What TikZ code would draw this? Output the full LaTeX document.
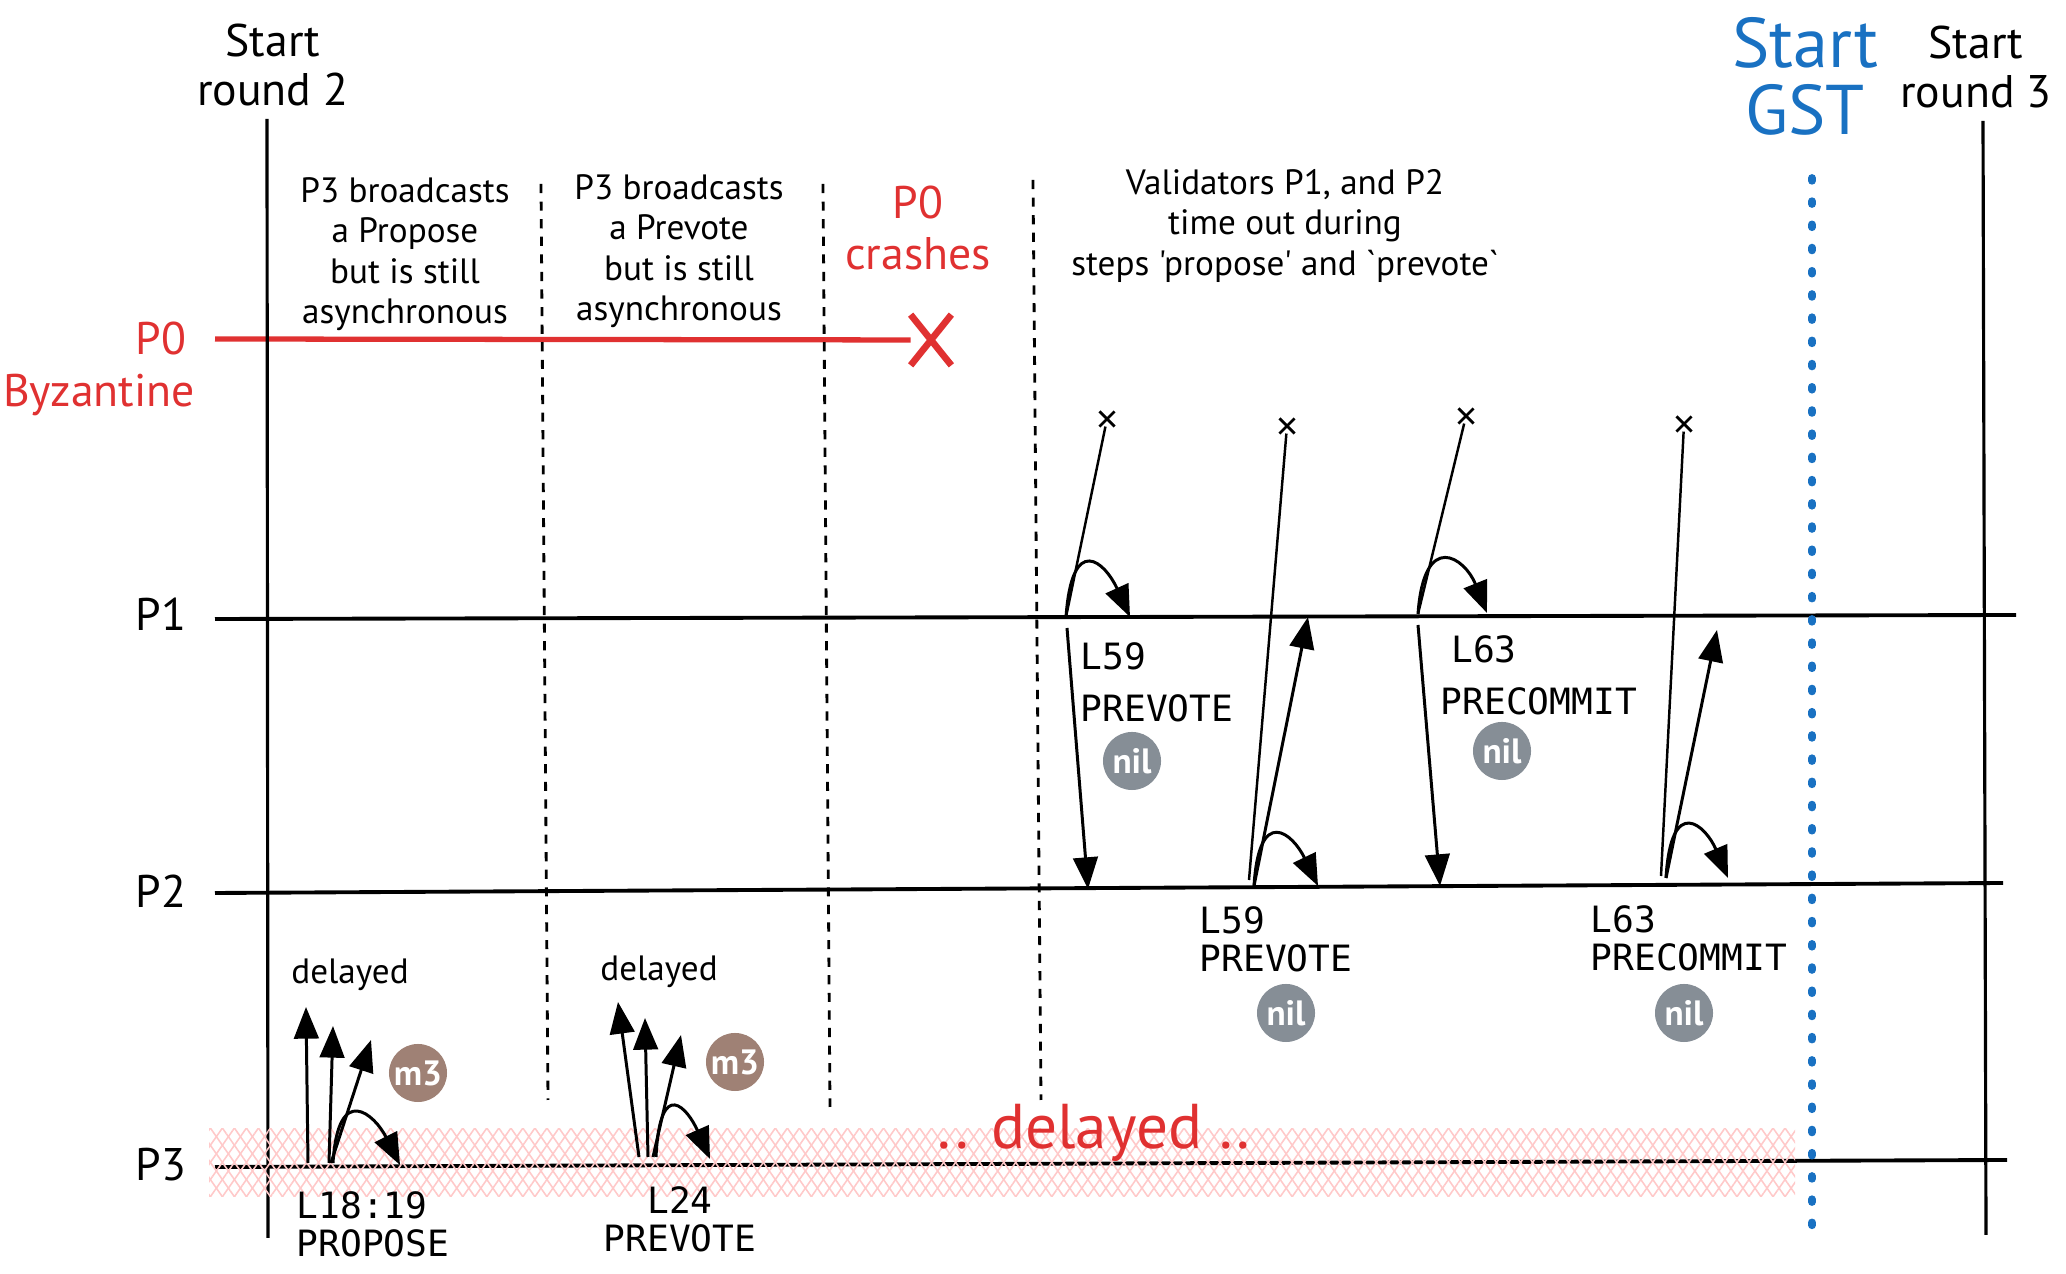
\documentclass[tikz,border=0pt]{standalone}
\usepackage{fontspec}
\setmainfont{PT Sans}[Ligatures=TeXOff]
\newfontfamily\monofont{DejaVu Sans Mono}
\usetikzlibrary{arrows.meta,shapes.misc,patterns.meta}
\definecolor{exred}{HTML}{E03131}
\definecolor{exblue}{HTML}{1971C2}
\definecolor{nilgray}{HTML}{868E96}
\definecolor{msgbrown}{HTML}{9F8175}
\definecolor{hatchpink}{HTML}{FFC9C9}
\tikzstyle{procline}=[draw,line width=1.1pt]
\tikzstyle{roundline}=[draw,line width=0.9pt]
\tikzstyle{stepsep}=[draw,line width=0.8pt,dash pattern=on 2.6pt off 2.4pt]
\tikzstyle{gstline}=[draw,exblue,line width=2.2pt,line cap=round,dash pattern=on 0.8pt off 5.8pt]
\tikzstyle{msg}=[draw,line width=0.85pt,-{Triangle[length=9pt,width=7pt]}]
\tikzstyle{timer}=[draw,line width=0.7pt]
\tikzstyle{tmark}=[cross out,draw,line width=0.8pt,minimum size=3.5pt,inner sep=0pt]
\tikzstyle{hand}=[font=\fontsize{10}{11.5}\selectfont,align=center,inner sep=0pt]
\tikzstyle{proclbl}=[font=\fontsize{13}{15}\selectfont,inner sep=0pt]
\tikzstyle{steplbl}=[font=\monofont\fontsize{10.3}{10.8}\selectfont,align=left,anchor=west,inner sep=0pt]
\tikzstyle{blob}=[circle,minimum size=0.58cm,inner sep=0pt,text=white,font=\fontsize{10}{10}\selectfont\bfseries]

\begin{document}
\begin{tikzpicture}[x=0.01cm,y=-0.01cm]
    \useasboundingbox (0,0) rectangle (2066,1274);

    % process lines
    \coordinate (p0w) at (215,339);
    \coordinate (p1w) at (215,619); \coordinate (p1e) at (2016,615);
    \coordinate (p2w) at (215,893); \coordinate (p2e) at (2003,883);
    \coordinate (p3w) at (215,1167); \coordinate (p3e) at (2007,1160);
    \node[proclbl,text=exred] (Pzero) at (161,339) {P0};
    \node[proclbl,text=exred] (byz) at (99,395) {Byzantine};
    \foreach \pos/\name in {{(161,614)/P1},{(161,891)/P2},{(161,1165)/P3}}
        \node[proclbl] (\name) at \pos {\name};
    \foreach \source/\dest in {p1w/p1e, p2w/p2e, p3w/p3e}
        \path[procline] (\source) -- (\dest);

    \node[cross out,draw=exred,line width=1.9pt,minimum width=0.34cm,minimum height=0.44cm,inner sep=0pt] (crash) at (931,340) {};
    \path[draw,exred,line width=1.5pt] (p0w) -- (crash);

    % rounds and GST
    \node[font=\fontsize{13}{14.2}\selectfont,align=center] (r2) at (273,65) {Start\\round 2};
    \node[font=\fontsize{13}{14.2}\selectfont,align=center] (r3) at (1976,67) {Start\\round 3};
    \node[font=\fontsize{20}{19}\selectfont,align=center,text=exblue] (gst) at (1805,76) {Start\\GST};
    \coordinate (r2top) at (267,119); \coordinate (r2bot) at (268,1238);
    \coordinate (r3top) at (1983,121); \coordinate (r3bot) at (1986,1235);
    \coordinate (gsttop) at (1812,178); \coordinate (gstbot) at (1812,1238);
    \path[roundline] (r2top) -- (r2bot);
    \path[roundline] (r3top) -- (r3bot);
    \path[gstline] (gsttop) -- (gstbot);

    % steps
    \coordinate (s1top) at (541,184); \coordinate (s1bot) at (548,1100);
    \coordinate (s2top) at (823,184); \coordinate (s2bot) at (830,1107);
    \coordinate (s3top) at (1033,180); \coordinate (s3bot) at (1041,1100);
    \foreach \source/\dest in {s1top/s1bot, s2top/s2bot, s3top/s3bot}
        \path[stepsep] (\source) -- (\dest);
    \node[hand] (step1) at (405,254) {P3 broadcasts\\a Propose\\but is still\\asynchronous};
    \node[hand] (step2) at (679,251) {P3 broadcasts\\a Prevote\\but is still\\asynchronous};
    \node[hand,text=exred,font=\fontsize{13}{14.6}\selectfont] (step3) at (918,228) {P0\\crashes};
    \node[hand] (step4) at (1285,226) {Validators P1, and P2\\time out during\\steps 'propose' and `prevote`};

    % delayed band of P3
    \fill[pattern={Lines[angle=55,distance=2.8pt,line width=0.45pt]},pattern color=hatchpink] (209,1129) rectangle (1795,1197);
    \fill[pattern={Lines[angle=-55,distance=2.8pt,line width=0.45pt]},pattern color=hatchpink] (209,1129) rectangle (1795,1197);
    \node[hand,text=exred,font=\fontsize{18}{18}\selectfont] (dly) at (1094,1133) {.. delayed ..};

    % timeouts of P1 and P2
    \foreach \pos/\name in {{(1107,419)/t1},{(1287,426)/t2},{(1466,416)/t3},{(1684,424)/t4}}
        \node[tmark] (\name) at \pos {};
    \coordinate (g1p1) at (1066,617); \coordinate (g1loop) at (1130,617);
    \coordinate (g1a) at (1067,628); \coordinate (g1b) at (1088,889);
    \coordinate (g2p2) at (1249,880); \coordinate (g2s) at (1254,886);
    \coordinate (g2e) at (1308,617); \coordinate (g2loop) at (1318,886);
    \coordinate (g3p1) at (1418,614); \coordinate (g3loop) at (1487,613);
    \coordinate (g3a) at (1418,625); \coordinate (g3b) at (1440,886);
    \coordinate (g4p2) at (1661,876); \coordinate (g4s) at (1666,878);
    \coordinate (g4e) at (1717,630); \coordinate (g4loop) at (1728,878);
    \foreach \source/\dest in {t1/g1p1, t2/g2p2, t3/g3p1, t4/g4p2}
        \path[timer] (\source) -- (\dest);
    \foreach \source/\dest in {g1a/g1b, g2s/g2e, g3a/g3b, g4s/g4e}
        \path[msg] (\source) -- (\dest);
    \path[msg] (g1p1) .. controls +(6,-85) and +(-25,-55) .. (g1loop);
    \path[msg] (g2s) .. controls +(5,-82) and +(-25,-52) .. (g2loop);
    \path[msg] (g3p1) .. controls +(6,-85) and +(-22,-55) .. (g3loop);
    \path[msg] (g4s) .. controls +(5,-85) and +(-22,-52) .. (g4loop);

    \node[steplbl] (lbl1) at (1080,682) {L59\\[4pt]PREVOTE};
    \node[steplbl] (lbl2) at (1199,939) {L59\\PREVOTE};
    \node[steplbl] (lbl3) at (1440,675) {\hspace{3pt}L63\\[4pt]PRECOMMIT};
    \node[steplbl] (lbl4) at (1590,938) {L63\\PRECOMMIT};
    \foreach \pos/\name in {{(1132,761)/nil1},{(1286,1013)/nil2},{(1502,751)/nil3},{(1684,1013)/nil4}}
        \node[blob,fill=nilgray] (\name) at \pos {nil};

    % messages of P3
    \coordinate (a1s) at (308,1163); \coordinate (a1e) at (306,1007);
    \coordinate (a2s) at (329,1163); \coordinate (a2e) at (333,1026);
    \coordinate (a3s) at (331,1163); \coordinate (a3e) at (371,1040);
    \coordinate (aloops) at (333,1163); \coordinate (aloope) at (400,1165);
    \coordinate (b1s) at (639,1157); \coordinate (b1e) at (618,1002);
    \coordinate (b2s) at (648,1157); \coordinate (b2e) at (645,1018);
    \coordinate (b3s) at (653,1157); \coordinate (b3e) at (681,1035);
    \coordinate (bloops) at (656,1157); \coordinate (bloope) at (710,1159);
    \foreach \source/\dest in {a1s/a1e, a2s/a2e, a3s/a3e, b1s/b1e, b2s/b2e, b3s/b3e}
        \path[msg] (\source) -- (\dest);
    \path[msg] (aloops) .. controls +(5,-82) and +(-25,-50) .. (aloope);
    \path[msg] (bloops) .. controls +(4,-82) and +(-22,-50) .. (bloope);
    \node[hand] (dlyA) at (350,975) {delayed};
    \node[hand] (dlyB) at (659,972) {delayed};
    \node[blob,fill=msgbrown] (m3A) at (418,1073) {m3};
    \node[blob,fill=msgbrown] (m3B) at (735,1062) {m3};
    \node[steplbl] (lblA) at (296,1224) {L18:19\\PROPOSE};
    \node[steplbl,align=center,anchor=center] (lblB) at (680,1219) {L24\\PREVOTE};

\end{tikzpicture}
\end{document}
